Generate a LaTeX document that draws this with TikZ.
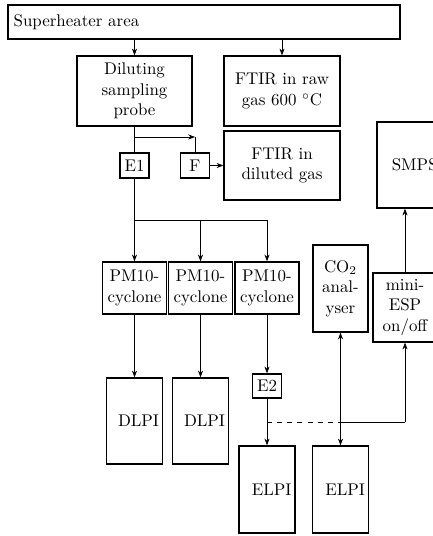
\documentclass[tikz,border=0pt]{standalone}
\usetikzlibrary{arrows.meta}
\tikzset{
  box/.style = {draw, thick, align=center, inner sep=2pt},
  tallbox/.style = {draw, thick, inner sep=2pt, minimum width=33.1pt, minimum height=50.9pt, text width=29.1pt, align=right},
  pmbox/.style = {box, minimum width=37.9pt, minimum height=30.8pt},
  tag/.style = {box, minimum width=17.2pt, minimum height=14.6pt}
}
\begin{document}
\begin{tikzpicture}[x=0.5917pt, y=-0.5917pt, >={Stealth[length=4pt,width=3pt]}]
        \useasboundingbox (0,0) rectangle (433,536);
        \clip (0,0) rectangle (433,536);
        \node [draw, thick, minimum width=231.9pt, minimum height=20.1pt, text width=225.2pt, align=left] (1-1) at (204,22) {Superheater area};
        \node [box, minimum width=68pt, minimum height=41.4pt] (2-1) at (134.5,91) {Diluting\\sampling\\probe};
        \node [box, minimum width=68.6pt, minimum height=41.4pt] (2-2) at (282,91) {FTIR in raw\\gas 600 $^\circ$C};
        \node [tag] (3-1) at (134.5,165.5) {E1};
        \node [tag] (3-2) at (195,165.5) {F};
        \node [box, minimum width=68.6pt, minimum height=40.8pt] (3-3) at (282,165.5) {FTIR in\\diluted gas};
        \node [tallbox, minimum width=37.9pt, text width=33.9pt] (3-4) at (409,165) {SMPS};
        \node [pmbox] (4-1) at (134.5,288) {PM10-\\cyclone};
        \node [pmbox] (4-2) at (200.5,288) {PM10-\\cyclone};
        \node [pmbox] (4-3) at (267,288) {PM10-\\cyclone};
        \node [box, minimum width=32.5pt, minimum height=51.5pt] (4-4) at (340.5,288.5) {CO$_2$\\anal-\\yser};
        \node [box, minimum width=37.9pt, minimum height=40.8pt] (4-5) at (405,307.5) {mini-\\ESP\\on/off};
        \node [tallbox] (5-1) at (134.5,421) {DLPI};
        \node [tallbox] (5-2) at (200.5,421) {DLPI};
        \node [tag, minimum height=14.2pt] (5-3) at (267,386) {E2};
        \node [tallbox, minimum height=51.5pt] (6-1) at (267,489.5) {ELPI};
        \node [tallbox, minimum height=51.5pt] (6-2) at (340.5,489.5) {ELPI};
        \coordinate (b-1) at (134.5,137);
        \coordinate (b-2) at (195,137);
        \coordinate (c-1) at (134.5,220);
        \coordinate (c-2) at (200.5,220);
        \coordinate (c-3) at (267,220);
        \coordinate (d-1) at (267,422);
        \coordinate (d-2) at (340.5,422);
        \coordinate (d-3) at (405,422);
        \draw [->] (1-1.south -| 2-1) -- (2-1);
        \draw [->] (1-1.south -| 2-2) -- (2-2);
        \draw (2-1) -- (3-1) (b-2) -- (3-2) (3-1) -- (c-1) (c-1) -- (c-3);
        \draw [->] (b-1) -- (b-2);
        \draw [->] (3-2) -- (3-3);
        \draw [->] (c-1) -- (4-1);
        \draw [->] (c-2) -- (4-2);
        \draw [->] (c-3) -- (4-3);
        \draw [->] (4-1) -- (5-1);
        \draw [->] (4-2) -- (5-2);
        \draw [->] (4-3) -- (5-3);
        \draw [->] (5-3) -- (6-1);
        \draw [dashed] (d-1) -- (d-2);
        \draw (d-2) -- (d-3);
        \draw [->] (d-2) -- (4-4);
        \draw [->] (d-2) -- (6-2);
        \draw [->] (d-3) -- (4-5);
        \draw [->] (4-5) -- (4-5 |- 3-4.south);
    \end{tikzpicture}
\end{document}
